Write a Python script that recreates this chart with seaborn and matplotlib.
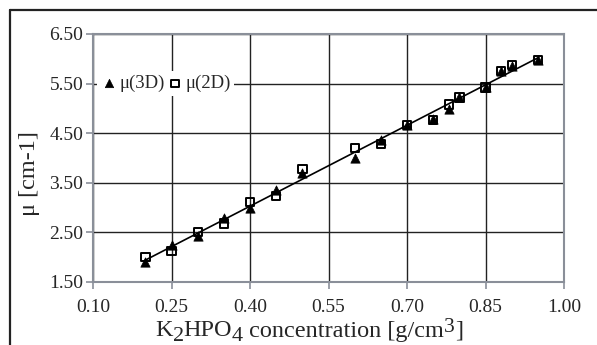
import matplotlib
matplotlib.use("Agg")
import matplotlib.pyplot as plt
from matplotlib.lines import Line2D
import pandas as pd
import seaborn as sns

# values
conc = [0.20, 0.25, 0.30, 0.35, 0.40, 0.45, 0.50, 0.60, 0.65, 0.70,
        0.75, 0.78, 0.80, 0.85, 0.88, 0.90, 0.95]
mu_3d = [1.90, 2.25, 2.43, 2.80, 2.99, 3.35, 3.70, 3.99, 4.36, 4.67,
         4.78, 4.98, 5.22, 5.43, 5.76, 5.86, 5.98]
mu_2d = [2.00, 2.13, 2.51, 2.68, 3.11, 3.24, 3.78, 4.20, 4.28, 4.67,
         4.77, 5.08, 5.22, 5.42, 5.75, 5.87, 5.98]
x_ticks = [0.10, 0.25, 0.40, 0.55, 0.70, 0.85, 1.00]
y_ticks = [1.50, 2.50, 3.50, 4.50, 5.50, 6.50]

df = pd.DataFrame({'conc': conc, 'mu_3d': mu_3d, 'mu_2d': mu_2d})
both = pd.DataFrame({'conc': conc + conc, 'mu': mu_3d + mu_2d})

sns.set_style('white')
plt.rcParams['font.family'] = ['Liberation Serif', 'DejaVu Serif']

fig = plt.figure(figsize=(5.97, 3.45), dpi=100)
ax = fig.add_axes([93 / 597, 63 / 345, 471 / 597, 248 / 345])

# fitted line through all points
sns.regplot(data=both, x='conc', y='mu', scatter=False, ci=None,
            color='black', line_kws={'lw': 1.2, 'zorder': 3}, ax=ax)
sns.scatterplot(data=df, x='conc', y='mu_3d', marker='^', s=45, color='black',
                edgecolor='black', linewidth=0.5, ax=ax, zorder=4, label='μ(3D)')
sns.scatterplot(data=df, x='conc', y='mu_2d', marker='s', s=36, facecolor='none',
                edgecolor='black', linewidth=1.4, ax=ax, zorder=5, label='μ(2D)')

ax.set_xlim(0.10, 1.00)
ax.set_ylim(1.50, 6.50)
ax.set_xticks(x_ticks)
ax.set_yticks(y_ticks)
ax.set_xticklabels([f'{v:.2f}' for v in x_ticks], fontsize=14)
ax.set_yticklabels([f'{v:.2f}' for v in y_ticks], fontsize=14)
ax.grid(True, color='#222222', lw=1.0)
ax.set_axisbelow(True)
for sp in ax.spines.values():
    sp.set_color('#8a8f99')
    sp.set_linewidth(1.5)
ax.tick_params(axis='both', which='major', direction='out', length=5,
               width=1.2, color='#8a8f99', bottom=True, left=True)
ax.tick_params(axis='x', pad=7)
ax.tick_params(axis='y', pad=2)
ax.set_xlabel('')
ax.set_ylabel('')

# y label
fig.text(30 / 597, 1 - 174 / 345, 'μ [cm-1]', rotation=90, fontsize=17.5,
         ha='center', va='center')

# x label, pieced together so sub/superscripts stay near full size
base_y = 1 - 336.5 / 345
pieces = [('K', 17.5, 0), ('2', 16, -3), ('HPO', 17.5, 0), ('4', 16, -3),
          (' concentration [g/cm', 17.5, 0), ('3', 15.5, 3), (']', 17.5, 0)]
prev = fig.text(155 / 597, base_y, pieces[0][0], fontsize=pieces[0][1],
                ha='left', va='baseline')
for txt, size, dy in pieces[1:]:
    prev = ax.annotate(txt, xy=(1, base_y), xycoords=(prev, 'figure fraction'),
                       xytext=(0, dy), textcoords='offset points',
                       fontsize=size, ha='left', va='baseline',
                       annotation_clip=False)

leg = ax.legend(loc='center left', bbox_to_anchor=(-0.012, 0.80), ncol=2,
                frameon=True, fontsize=13.5, handletextpad=0.1, columnspacing=0.1,
                borderpad=0.2, handlelength=0.9, markerscale=0.9)
leg.get_frame().set_facecolor('white')
leg.get_frame().set_edgecolor('none')
leg.get_frame().set_alpha(1)

# outer frame (top and left edges only)
fig.add_artist(Line2D([10 / 597, 1.0], [1 - 10 / 345, 1 - 10 / 345],
                      transform=fig.transFigure, color='#222222', lw=1.6))
fig.add_artist(Line2D([10 / 597, 10 / 597], [0, 1 - 10 / 345],
                      transform=fig.transFigure, color='#222222', lw=1.6))

fig.savefig('out.png', dpi=100)
